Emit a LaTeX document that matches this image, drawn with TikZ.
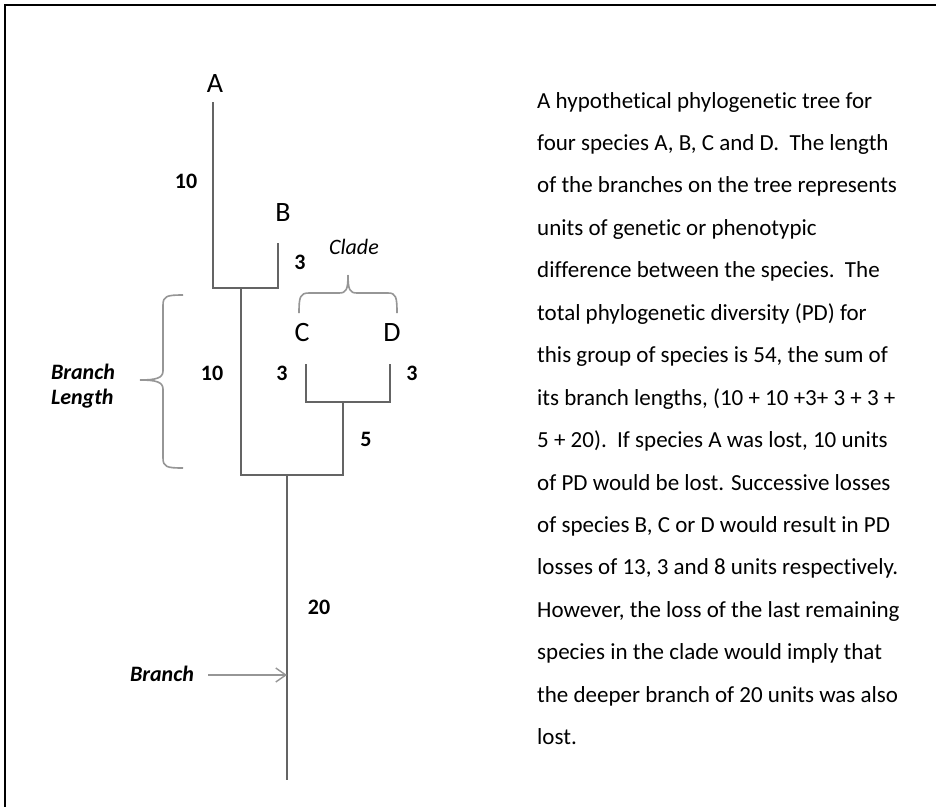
\documentclass[tikz,border=0pt]{standalone}
\usepackage{fontspec}
\setmainfont{Carlito}[Ligatures=NoCommon]
\usetikzlibrary{arrows.meta}
\definecolor{treec}{RGB}{100,100,100}
\definecolor{bracec}{RGB}{150,150,150}
\tikzset{
  treeline/.style={draw=treec,line width=2pt},
  bracel/.style={draw=bracec,line width=1.6pt},
  taxon/.style={font=\fontsize{28}{30}\selectfont,inner sep=0pt},
  blen/.style={font=\fontsize{22}{24}\selectfont\bfseries,inner sep=0pt},
  annot/.style={font=\fontsize{22}{24}\selectfont\bfseries\itshape,inner sep=0pt},
  capline/.style={font=\fontsize{23}{25}\selectfont,anchor=base west,inner sep=0pt},
}
\begin{document}
\begin{tikzpicture}[x=1pt,y=-1pt]
\clip (0,0) rectangle (936,806);
\fill[white] (0,0) rectangle (936,806);
\draw[line width=2pt] (5,5) rectangle (960,830);

% tree coordinates
\coordinate (Atop) at (213,102);
\coordinate (AB) at (213,288);
\coordinate (Btop) at (278,243);
\coordinate (Bbot) at (278,288);
\coordinate (ABmid) at (241,288);
\coordinate (Lroot) at (241,475);
\coordinate (Rroot) at (343,475);
\coordinate (CDmid) at (343,402);
\coordinate (Ctop) at (306,364);
\coordinate (Cbot) at (306,402);
\coordinate (Dtop) at (390,364);
\coordinate (Dbot) at (390,402);
\coordinate (root) at (287,475);
\coordinate (rootend) at (287,780);

\draw[treeline] (Atop) -- (AB) -- (Bbot) -- (Btop);
\draw[treeline] (ABmid) -- (Lroot) -- (Rroot) -- (CDmid);
\draw[treeline] (Ctop) -- (Cbot) -- (Dbot) -- (Dtop);
\draw[treeline] (root) -- (rootend);

% taxon labels
\node[taxon] (A) at (215,84) {A};
\node[taxon] (B) at (283,213) {B};
\node[taxon] (C) at (302,333) {C};
\node[taxon] (D) at (392,333) {D};

% branch lengths
\node[blen] (l1) at (186,181) {10};
\node[blen] (l2) at (300,262) {3};
\node[blen] (l3) at (212,373) {10};
\node[blen] (l4) at (282,373) {3};
\node[blen] (l5) at (412,373) {3};
\node[blen] (l6) at (366,439) {5};
\node[blen] (l7) at (319,607) {20};

% clade brace
\draw[bracel] (299,313) .. controls (299,297) and (300,293) .. (309,293) -- (339,293)
  .. controls (346,293) and (348,290) .. (348,275);
\draw[bracel] (348,275) .. controls (348,290) and (350,293) .. (357,293) -- (388,293)
  .. controls (396,293) and (397,297) .. (397,313);
\node[inner sep=0pt,font=\fontsize{22}{24}\selectfont\itshape] (clade) at (354,247) {Clade};

% branch length brace
\draw[bracel] (183,295) .. controls (167,295) and (163,296) .. (163,305) -- (163,371)
  .. controls (163,378) and (156,380) .. (140,380);
\draw[bracel] (140,380) .. controls (156,380) and (163,382) .. (163,389) -- (163,458)
  .. controls (163,467) and (167,468) .. (183,468);
\node[annot,align=left] (blabel) at (83,386) {Branch\\[1pt]Length};

% branch arrow
\node[annot] (branch) at (162,674) {Branch};
\coordinate (arrowend) at (287,675);
\draw[draw=bracec,line width=1.4pt,-{Straight Barb[length=10pt,width=14pt]}] (208,675) -- (arrowend);

% caption
\foreach \t [count=\i from 0] in {
  {A hypothetical phylogenetic tree for},
  {four species A, B, C and D.\ \ The length},
  {of the branches on the tree represents},
  {units of genetic or phenotypic},
  {difference between the species.\ \ The},
  {total phylogenetic diversity (PD) for},
  {this group of species is 54, the sum of},
  {its branch lengths, (10 + 10 +3+ 3 + 3 +},
  {5 + 20).\ \ If species A was lost, 10 units},
  {of PD would be lost. Successive losses},
  {of species B, C or D would result in PD},
  {losses of 13, 3 and 8 units respectively.},
  {However, the loss of the last remaining},
  {species in the clade would imply that},
  {the deeper branch of 20 units was also},
  {lost.}}
  \node[capline] (cap\i) at (537,108+42.45*\i) {\t};
\end{tikzpicture}
\end{document}
